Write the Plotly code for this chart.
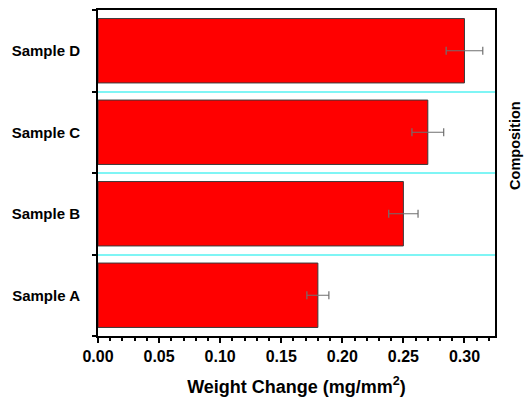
import plotly.graph_objects as go

samples = ["Sample A", "Sample B", "Sample C", "Sample D"]
weight_change = [0.18, 0.25, 0.27, 0.30]
error = [0.009, 0.012, 0.013, 0.015]

FONT = "Liberation Sans, Arial, sans-serif"

fig = go.Figure()
fig.add_trace(go.Bar(
    x=weight_change, y=samples, orientation="h",
    marker=dict(color="#ff0000", line=dict(color="#3a3a3a", width=1)),
    error_x=dict(type="data", array=error, color="#707070", thickness=1.2, width=4),
    width=0.79,
))

fig.update_layout(
    width=527, height=400,
    margin=dict(l=98, r=32, t=10, b=64, autoexpand=False),
    paper_bgcolor="white", plot_bgcolor="white",
    showlegend=False,
    font=dict(family=FONT, color="black"),
    xaxis=dict(
        range=[0, 0.325], dtick=0.05, tickformat=".2f", automargin=False,
        showline=True, linecolor="black", linewidth=2, mirror=True,
        ticks="outside", ticklen=5, tickwidth=2, tickcolor="black",
        minor=dict(dtick=0.01, ticks="outside", ticklen=3, tickwidth=1.5, tickcolor="black"),
        showgrid=False, zeroline=False,
        tickfont=dict(size=16, weight="bold"),
        ticklabelstandoff=0,
        title=dict(text="Weight Change (mg/mm<sup>2</sup>)", font=dict(size=18, weight="bold"), standoff=16),
    ),
    yaxis=dict(
        type="category", tickson="boundaries", automargin=False,
        showline=True, linecolor="black", linewidth=2, mirror=True,
        ticks="outside", ticklen=4, tickwidth=2, tickcolor="black",
        showgrid=True, gridcolor="#7ff5f5", gridwidth=1.5,
        tickfont=dict(size=15, weight="bold"),
        ticklabelstandoff=13,
    ),
    annotations=[dict(
        text="Composition", textangle=-90, xref="paper", yref="paper",
        x=1.0, y=0.583, xanchor="center", yanchor="middle", xshift=20,
        showarrow=False, font=dict(size=14.5, weight="bold", family=FONT),
    )],
)

fig.write_html("out.html", config={"displayModeBar": False},
               post_script="document.body.style.margin='0';document.body.style.overflow='hidden';")
